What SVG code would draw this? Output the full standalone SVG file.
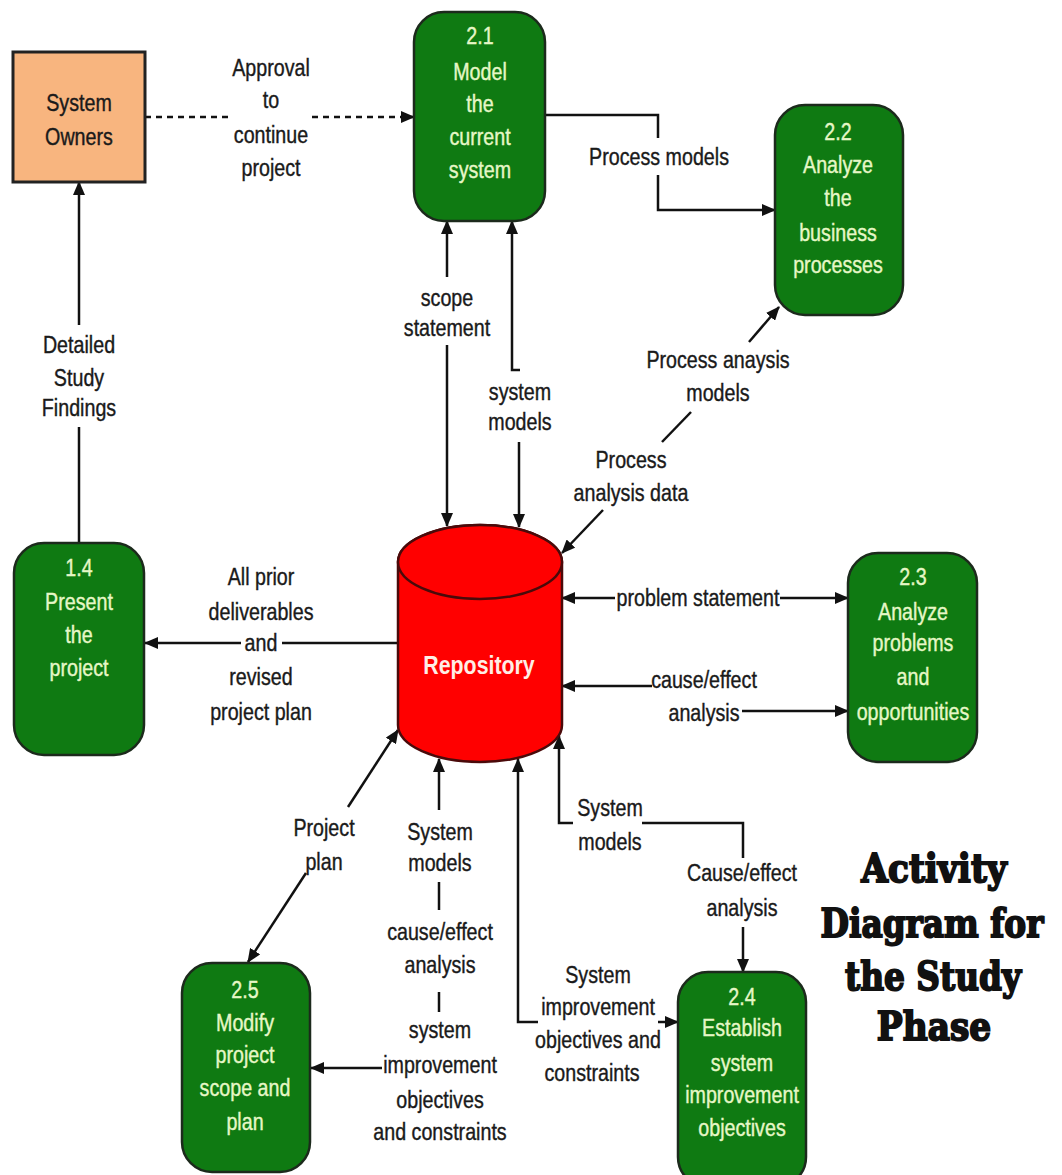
<svg xmlns="http://www.w3.org/2000/svg" width="1062" height="1175" viewBox="0 0 1062 1175">
<defs>
<marker id="ah" viewBox="0 0 14 12" markerUnits="userSpaceOnUse" markerWidth="14" markerHeight="12" refX="13" refY="6" orient="auto-start-reverse">
<path d="M0,0 L14,6 L0,12 Z" fill="#111"/>
</marker>
<style>
.node{fill:#0f7a12;stroke:#1c2a1c;stroke-width:2.5}
.ext{fill:#f8b57f;stroke:#222;stroke-width:3}
.nt{font-family:"Liberation Sans",Arial,sans-serif;font-size:24px;fill:#e6f7c6;stroke:#e6f7c6;stroke-width:0.4;text-anchor:middle}
.lbl{font-family:"Liberation Sans",Arial,sans-serif;font-size:24px;fill:#1a1a1a;stroke:#1a1a1a;stroke-width:0.4;text-anchor:middle}
.ln{fill:none;stroke:#111;stroke-width:2.5}
.dash{stroke-dasharray:6 5}
.title{font-family:"DejaVu Serif",serif;font-weight:bold;font-size:40px;fill:#111;stroke:#111;stroke-width:2;text-anchor:middle}
</style>
</defs>
<rect width="1062" height="1175" fill="#ffffff"/>

<g id="connectors">
<path class="ln dash" d="M145,117 H233"/>
<path class="ln dash" d="M312,117 H414" marker-end="url(#ah)"/>
<path class="ln" d="M79,325 V182" marker-end="url(#ah)"/>
<path class="ln" d="M79,427 V543"/>
<path class="ln" d="M545,115 H658 V138"/>
<path class="ln" d="M658,175 V210 H775" marker-end="url(#ah)"/>
<path class="ln" d="M447,277 V221" marker-end="url(#ah)"/>
<path class="ln" d="M447,345 V526" marker-end="url(#ah)"/>
<path class="ln" d="M520,370 H512 V221" marker-end="url(#ah)"/>
<path class="ln" d="M519,442 V527" marker-end="url(#ah)"/>
<path class="ln" d="M749,342 L779,307" marker-end="url(#ah)"/>
<path class="ln" d="M691,412 L662,442"/>
<path class="ln" d="M603,510 L562,553" marker-end="url(#ah)"/>
<path class="ln" d="M399,643 H282"/>
<path class="ln" d="M241,643 H145" marker-end="url(#ah)"/>
<path class="ln" d="M615,598 H562" marker-end="url(#ah)"/>
<path class="ln" d="M780,598 H848" marker-end="url(#ah)"/>
<path class="ln" d="M652,686 H562" marker-end="url(#ah)"/>
<path class="ln" d="M742,711 H848" marker-end="url(#ah)"/>
<path class="ln" d="M348,807 L398,730" marker-end="url(#ah)"/>
<path class="ln" d="M306,873 L248,962" marker-end="url(#ah)"/>
<path class="ln" d="M439,810 V759" marker-end="url(#ah)"/>
<path class="ln" d="M439,882 V910"/>
<path class="ln" d="M439,992 V1012"/>
<path class="ln" d="M382,1068 H311" marker-end="url(#ah)"/>
<path class="ln" d="M538,1022 H518 V759" marker-end="url(#ah)"/>
<path class="ln" d="M658,1022 H678" marker-end="url(#ah)"/>
<path class="ln" d="M573,823 H559 V736" marker-end="url(#ah)"/>
<path class="ln" d="M642,823 H743 V858"/>
<path class="ln" d="M743,927 V972" marker-end="url(#ah)"/>
</g>

<g id="labels">
<g transform="translate(271,0) scale(0.82,1)"><text class="lbl" x="0" y="76">Approval</text><text class="lbl" x="0" y="108">to</text><text class="lbl" x="0" y="143">continue</text><text class="lbl" x="0" y="176">project</text></g>
<g transform="translate(79,0) scale(0.82,1)"><text class="lbl" x="0" y="353">Detailed</text><text class="lbl" x="0" y="386">Study</text><text class="lbl" x="0" y="416">Findings</text></g>
<g transform="translate(659,0) scale(0.82,1)"><text class="lbl" x="0" y="165">Process models</text></g>
<g transform="translate(447,0) scale(0.82,1)"><text class="lbl" x="0" y="306">scope</text><text class="lbl" x="0" y="336">statement</text></g>
<g transform="translate(520,0) scale(0.82,1)"><text class="lbl" x="0" y="400">system</text><text class="lbl" x="0" y="430">models</text></g>
<g transform="translate(718,0) scale(0.82,1)"><text class="lbl" x="0" y="368">Process anaysis</text><text class="lbl" x="0" y="401">models</text></g>
<g transform="translate(631,0) scale(0.82,1)"><text class="lbl" x="0" y="468">Process</text><text class="lbl" x="0" y="501">analysis data</text></g>
<g transform="translate(261,0) scale(0.82,1)"><text class="lbl" x="0" y="585">All prior</text><text class="lbl" x="0" y="620">deliverables</text><text class="lbl" x="0" y="651">and</text><text class="lbl" x="0" y="685">revised</text><text class="lbl" x="0" y="720">project plan</text></g>
<g transform="translate(698,0) scale(0.82,1)"><text class="lbl" x="0" y="606">problem statement</text></g>
<g transform="translate(704,0) scale(0.82,1)"><text class="lbl" x="0" y="688">cause/effect</text><text class="lbl" x="0" y="721">analysis</text></g>
<g transform="translate(324,0) scale(0.82,1)"><text class="lbl" x="0" y="836">Project</text><text class="lbl" x="0" y="870">plan</text></g>
<g transform="translate(440,0) scale(0.82,1)"><text class="lbl" x="0" y="840">System</text><text class="lbl" x="0" y="871">models</text><text class="lbl" x="0" y="940">cause/effect</text><text class="lbl" x="0" y="973">analysis</text><text class="lbl" x="0" y="1038">system</text><text class="lbl" x="0" y="1073">improvement</text><text class="lbl" x="0" y="1108">objectives</text><text class="lbl" x="0" y="1140">and constraints</text></g>
<g transform="translate(598,0) scale(0.82,1)"><text class="lbl" x="0" y="983">System</text><text class="lbl" x="0" y="1015">improvement</text><text class="lbl" x="0" y="1048">objectives and</text></g>
<g transform="translate(592,0) scale(0.82,1)"><text class="lbl" x="0" y="1081">constraints</text></g>
<g transform="translate(610,0) scale(0.82,1)"><text class="lbl" x="0" y="816">System</text><text class="lbl" x="0" y="850">models</text></g>
<g transform="translate(742,0) scale(0.82,1)"><text class="lbl" x="0" y="881">Cause/effect</text><text class="lbl" x="0" y="916">analysis</text></g>
</g>

<g id="system-owners">
<rect class="ext" x="13" y="52" width="132" height="130"/>
<g transform="translate(79,0) scale(0.82,1)"><text class="lbl" x="0" y="111">System</text><text class="lbl" x="0" y="145">Owners</text></g>
</g>

<g id="node-2-1">
<rect class="node" x="414" y="12" width="131" height="209" rx="30"/>
<g transform="translate(480,0) scale(0.82,1)">
<text class="nt" x="0" y="44">2.1</text>
<text class="nt" x="0" y="80">Model</text>
<text class="nt" x="0" y="112">the</text>
<text class="nt" x="0" y="145">current</text>
<text class="nt" x="0" y="178">system</text>
</g>
</g>

<g id="node-2-2">
<rect class="node" x="775" y="105" width="128" height="210" rx="30"/>
<g transform="translate(838,0) scale(0.82,1)">
<text class="nt" x="0" y="140">2.2</text>
<text class="nt" x="0" y="173">Analyze</text>
<text class="nt" x="0" y="206">the</text>
<text class="nt" x="0" y="241">business</text>
<text class="nt" x="0" y="273">processes</text>
</g>
</g>

<g id="node-1-4">
<rect class="node" x="14" y="543" width="130" height="212" rx="30"/>
<g transform="translate(79,0) scale(0.82,1)">
<text class="nt" x="0" y="576">1.4</text>
<text class="nt" x="0" y="610">Present</text>
<text class="nt" x="0" y="643">the</text>
<text class="nt" x="0" y="676">project</text>
</g>
</g>

<g id="repository">
<path d="M398,562 V725 A82,37 0 0 0 562,725 V562 A82,37 0 0 0 398,562 Z" fill="#ff0000" stroke="#4a0a0a" stroke-width="2.5"/>
<ellipse cx="480" cy="562" rx="82" ry="37" fill="#ff0000" stroke="#4a0a0a" stroke-width="2.5"/>
<g transform="translate(479,0) scale(0.82,1)"><text x="0" y="674" font-family="'Liberation Sans',Arial,sans-serif" font-size="26" font-weight="bold" fill="#ffeee6" text-anchor="middle">Repository</text></g>
</g>

<g id="node-2-3">
<rect class="node" x="848" y="553" width="129" height="209" rx="30"/>
<g transform="translate(913,0) scale(0.82,1)">
<text class="nt" x="0" y="585">2.3</text>
<text class="nt" x="0" y="620">Analyze</text>
<text class="nt" x="0" y="651">problems</text>
<text class="nt" x="0" y="685">and</text>
<text class="nt" x="0" y="720">opportunities</text>
</g>
</g>

<g id="node-2-5">
<rect class="node" x="182" y="963" width="128" height="209" rx="30"/>
<g transform="translate(245,0) scale(0.82,1)">
<text class="nt" x="0" y="998">2.5</text>
<text class="nt" x="0" y="1031">Modify</text>
<text class="nt" x="0" y="1063">project</text>
<text class="nt" x="0" y="1096">scope and</text>
<text class="nt" x="0" y="1130">plan</text>
</g>
</g>

<g id="node-2-4">
<rect class="node" x="678" y="972" width="128" height="215" rx="30"/>
<g transform="translate(742,0) scale(0.82,1)">
<text class="nt" x="0" y="1005">2.4</text>
<text class="nt" x="0" y="1036">Establish</text>
<text class="nt" x="0" y="1071">system</text>
<text class="nt" x="0" y="1103">improvement</text>
<text class="nt" x="0" y="1136">objectives</text>
</g>
</g>

<g id="title">
<g transform="translate(934,0) scale(0.86,1)"><text class="title" x="0" y="882">Activity</text></g>
<g transform="translate(932,0) scale(0.82,1)"><text class="title" x="0" y="937">Diagram for</text></g>
<g transform="translate(933,0) scale(0.82,1)"><text class="title" x="0" y="990">the Study</text></g>
<g transform="translate(934,0) scale(0.86,1)"><text class="title" x="0" y="1040">Phase</text></g>
</g>
</svg>
